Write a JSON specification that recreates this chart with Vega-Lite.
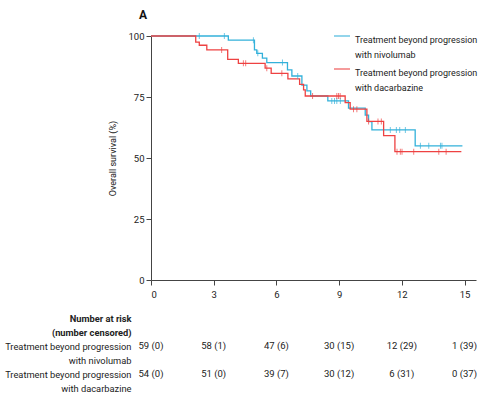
{
  "$schema": "https://vega.github.io/schema/vega-lite/v6.json",
  "background": "white",
  "padding": {"left": 4, "top": 9, "right": 5, "bottom": 5},
  "config": {
    "font": "Roboto, sans-serif",
    "view": {"stroke": null},
    "axis": {"domainColor": "#444", "tickColor": "#444", "labelColor": "#222", "labelFontSize": 9.5, "grid": false, "tickSize": 5},
    "style": {"guide-label": {"lineHeight": 15}}
  },
  "datasets": {
    "km": [
      {"g": "nivolumab", "t": 0, "s": 100},
      {"g": "nivolumab", "t": 3.7, "s": 98.3},
      {"g": "nivolumab", "t": 4.95, "s": 94.3},
      {"g": "nivolumab", "t": 5.06, "s": 92.9},
      {"g": "nivolumab", "t": 5.33, "s": 90.9},
      {"g": "nivolumab", "t": 5.54, "s": 89.1},
      {"g": "nivolumab", "t": 6.53, "s": 86.1},
      {"g": "nivolumab", "t": 6.74, "s": 83.6},
      {"g": "nivolumab", "t": 7.22, "s": 79.9},
      {"g": "nivolumab", "t": 7.46, "s": 77.5},
      {"g": "nivolumab", "t": 7.64, "s": 75.4},
      {"g": "nivolumab", "t": 8.46, "s": 73.4},
      {"g": "nivolumab", "t": 9.45, "s": 70.4},
      {"g": "nivolumab", "t": 10.25, "s": 67.6},
      {"g": "nivolumab", "t": 10.41, "s": 64.9},
      {"g": "nivolumab", "t": 10.57, "s": 61.5},
      {"g": "nivolumab", "t": 12.64, "s": 55.0},
      {"g": "nivolumab", "t": 14.9, "s": 55.0},
      {"g": "dacarbazine", "t": 0, "s": 100},
      {"g": "dacarbazine", "t": 2.14, "s": 97.5},
      {"g": "dacarbazine", "t": 2.31, "s": 96.2},
      {"g": "dacarbazine", "t": 2.67, "s": 94.3},
      {"g": "dacarbazine", "t": 3.67, "s": 90.4},
      {"g": "dacarbazine", "t": 4.18, "s": 88.8},
      {"g": "dacarbazine", "t": 5.46, "s": 86.8},
      {"g": "dacarbazine", "t": 5.75, "s": 84.7},
      {"g": "dacarbazine", "t": 6.55, "s": 82.4},
      {"g": "dacarbazine", "t": 7.11, "s": 80.2},
      {"g": "dacarbazine", "t": 7.3, "s": 77.9},
      {"g": "dacarbazine", "t": 7.38, "s": 75.4},
      {"g": "dacarbazine", "t": 9.29, "s": 72.7},
      {"g": "dacarbazine", "t": 9.53, "s": 70.0},
      {"g": "dacarbazine", "t": 10.33, "s": 65.0},
      {"g": "dacarbazine", "t": 11.13, "s": 59.2},
      {"g": "dacarbazine", "t": 11.67, "s": 52.6},
      {"g": "dacarbazine", "t": 14.85, "s": 52.6}
    ],
    "cens": [
      {"g": "nivolumab", "t": 2.31, "s": 100},
      {"g": "nivolumab", "t": 3.51, "s": 100},
      {"g": "nivolumab", "t": 4.9, "s": 98.3},
      {"g": "nivolumab", "t": 5.11, "s": 92.9},
      {"g": "nivolumab", "t": 6.29, "s": 89.1},
      {"g": "nivolumab", "t": 7.02, "s": 83.6},
      {"g": "nivolumab", "t": 8.65, "s": 73.4},
      {"g": "nivolumab", "t": 8.78, "s": 73.4},
      {"g": "nivolumab", "t": 8.89, "s": 73.4},
      {"g": "nivolumab", "t": 9.06, "s": 73.4},
      {"g": "nivolumab", "t": 11.45, "s": 61.5},
      {"g": "nivolumab", "t": 11.74, "s": 61.5},
      {"g": "nivolumab", "t": 11.9, "s": 61.5},
      {"g": "nivolumab", "t": 12.17, "s": 61.5},
      {"g": "nivolumab", "t": 12.89, "s": 55.0},
      {"g": "nivolumab", "t": 13.29, "s": 55.0},
      {"g": "nivolumab", "t": 13.85, "s": 55.0},
      {"g": "nivolumab", "t": 13.92, "s": 55.0},
      {"g": "dacarbazine", "t": 3.38, "s": 94.3},
      {"g": "dacarbazine", "t": 4.42, "s": 88.8},
      {"g": "dacarbazine", "t": 4.53, "s": 88.8},
      {"g": "dacarbazine", "t": 5.54, "s": 86.8},
      {"g": "dacarbazine", "t": 6.26, "s": 84.7},
      {"g": "dacarbazine", "t": 7.73, "s": 75.4},
      {"g": "dacarbazine", "t": 8.89, "s": 75.4},
      {"g": "dacarbazine", "t": 8.97, "s": 75.4},
      {"g": "dacarbazine", "t": 9.05, "s": 75.4},
      {"g": "dacarbazine", "t": 9.69, "s": 70.0},
      {"g": "dacarbazine", "t": 9.85, "s": 70.0},
      {"g": "dacarbazine", "t": 10.41, "s": 65.0},
      {"g": "dacarbazine", "t": 10.86, "s": 65.0},
      {"g": "dacarbazine", "t": 11.02, "s": 65.0},
      {"g": "dacarbazine", "t": 11.77, "s": 52.6},
      {"g": "dacarbazine", "t": 11.93, "s": 52.6},
      {"g": "dacarbazine", "t": 12.01, "s": 52.6},
      {"g": "dacarbazine", "t": 12.57, "s": 52.6},
      {"g": "dacarbazine", "t": 13.77, "s": 52.6},
      {"g": "dacarbazine", "t": 14.12, "s": 52.6}
    ],
    "risk": [
      {"row": "n1", "t": 0, "v": "59 (0)"},
      {"row": "n1", "t": 3, "v": "58 (1)"},
      {"row": "n1", "t": 6, "v": "47 (6)"},
      {"row": "n1", "t": 9, "v": "30 (15)"},
      {"row": "n1", "t": 12, "v": "12 (29)"},
      {"row": "n1", "t": 15, "v": "1 (39)"},
      {"row": "d1", "t": 0, "v": "54 (0)"},
      {"row": "d1", "t": 3, "v": "51 (0)"},
      {"row": "d1", "t": 6, "v": "39 (7)"},
      {"row": "d1", "t": 9, "v": "30 (12)"},
      {"row": "d1", "t": 12, "v": "6 (31)"},
      {"row": "d1", "t": 15, "v": "0 (37)"}
    ]
  },
  "vconcat": [
    {
      "width": 325,
      "height": 244,
      "title": {"text": "A", "anchor": "start", "frame": "group", "fontSize": 12, "fontWeight": "bold", "color": "#111", "dx": -12, "dy": 3, "offset": 12},
      "layer": [
        {
          "data": {"name": "km"},
          "mark": {"type": "line", "interpolate": "step-after", "strokeWidth": 1.3},
          "encoding": {
            "x": {"field": "t", "type": "quantitative", "scale": {"domain": [0, 15.55], "nice": false},
              "axis": {"values": [0, 3, 6, 9, 12, 15], "title": null, "labelPadding": 4}},
            "y": {"field": "s", "type": "quantitative", "scale": {"domain": [0, 100], "nice": false},
              "axis": {"values": [0, 25, 50, 75, 100], "title": "Overall survival (%)", "titleFontSize": 9, "titleFontWeight": "normal", "titleColor": "#222", "titlePadding": 10, "labelPadding": 2}},
            "color": {"field": "g", "type": "nominal",
              "scale": {"domain": ["nivolumab", "dacarbazine"], "range": ["#33b1da", "#ee4242"]},
              "legend": {"title": null, "orient": "none", "legendX": 182, "legendY": -9, "symbolType": "stroke", "symbolSize": 256, "symbolStrokeWidth": 1.5, "labelFontSize": 9, "labelColor": "#222", "labelBaseline": "top", "labelOffset": 4, "rowPadding": 0, "labelLimit": 200, "labelExpr": "datum.label == 'nivolumab' ? ['Treatment beyond progression', 'with nivolumab'] : ['Treatment beyond progression', 'with dacarbazine']"}}
          }
        },
        {
          "data": {"name": "cens"},
          "mark": {"type": "tick", "orient": "vertical", "size": 6, "thickness": 1},
          "encoding": {
            "x": {"field": "t", "type": "quantitative"},
            "y": {"field": "s", "type": "quantitative"},
            "color": {"field": "g", "type": "nominal"}
          }
        }
      ]
    },
    {
      "width": 325,
      "height": 84,
      "data": {"name": "risk"},
      "mark": {"type": "text", "fontSize": 9.5, "color": "#222", "align": "center", "baseline": "middle"},
      "encoding": {
        "x": {"field": "t", "type": "quantitative", "scale": {"domain": [0, 15.55], "nice": false}, "axis": null},
        "y": {"field": "row", "type": "ordinal",
          "scale": {"type": "point", "domain": ["h1", "h2", "n1", "n2", "d1", "d2"], "padding": 0.5},
          "axis": {"title": null, "domain": false, "ticks": false, "labelPadding": 20, "labelFontSize": 9.3, "labelColor": "#222",
            "labelFontWeight": {"condition": {"test": "datum.value == 'h1' || datum.value == 'h2'", "value": "bold"}, "value": "normal"},
            "labelExpr": "{'h1': 'Number at risk', 'h2': '(number censored)', 'n1': 'Treatment beyond progression', 'n2': 'with nivolumab', 'd1': 'Treatment beyond progression', 'd2': 'with dacarbazine'}[datum.value]"}},
        "text": {"field": "v", "type": "nominal"}
      }
    }
  ],
  "spacing": 12
}
